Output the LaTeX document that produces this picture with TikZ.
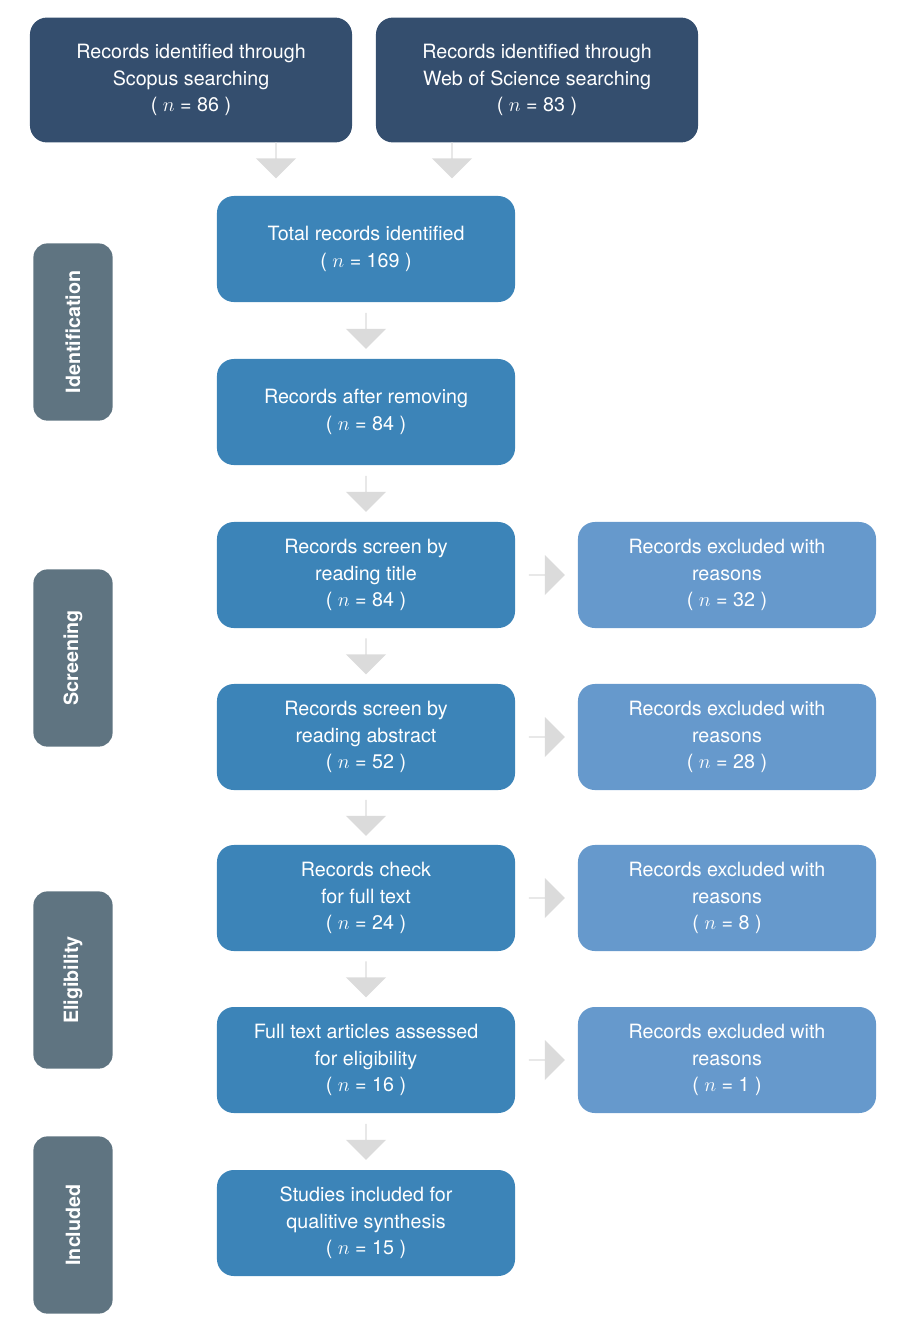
\documentclass[tikz,border=0pt]{standalone}
\usepackage{fontspec}
\setmainfont{TeX Gyre Heros}
\usetikzlibrary{shapes.arrows,positioning,calc}
\definecolor{navy}{HTML}{344E6E}
\definecolor{mid}{HTML}{3C84B8}
\definecolor{light}{HTML}{6699CC}
\definecolor{side}{HTML}{5F7481}

\begin{document}
\begin{tikzpicture}[x=0.025cm,y=-0.025cm]
\tikzstyle{box}=[rounded corners=12pt,text=white,align=center,inner sep=0pt,
  font=\fontsize{14}{19}\selectfont,minimum height=2.65cm]
\tikzstyle{source}=[box,fill=navy,minimum width=8.05cm,minimum height=3.12cm]
\tikzstyle{stage}=[box,fill=mid,minimum width=7.45cm]
\tikzstyle{excl}=[box,fill=light,minimum width=7.45cm]
\tikzstyle{phase}=[rounded corners=10pt,fill=side,text=white,rotate=90,inner sep=0pt,
  minimum width=4.43cm,minimum height=1.98cm,font=\fontsize{14}{17}\selectfont\bfseries]
\tikzstyle{downarrow}=[single arrow,shape border rotate=270,fill=black!14,draw=none,inner sep=0pt,
  minimum width=1cm,minimum height=0.9cm,single arrow head extend=0.2cm]
\tikzstyle{sidearrow}=[downarrow,shape border rotate=0]
\useasboundingbox (0,0) rectangle (905,1336);
% top sources
\node[source] (scopus) at (191,80) {Records identified through\\Scopus searching\\( $n$ = 86 )};
\node[source] (wos) at (537,80) {Records identified through\\Web of Science searching\\( $n$ = 83 )};
% main flow
\foreach \name/\y/\txt in {
	total/249/{Total records identified\\( $n$ = 169 )},
	removed/412/{Records after removing\\( $n$ = 84 )},
	title/575/{Records screen by\\reading title\\( $n$ = 84 )},
	abstract/737/{Records screen by\\reading abstract\\( $n$ = 52 )},
	full/898/{Records check\\for full text\\( $n$ = 24 )},
	elig/1060/{Full text articles assessed\\for eligibility\\( $n$ = 16 )},
	incl/1223/{Studies included for\\qualitive synthesis\\( $n$ = 15 )}}
	\node[stage] (\name) at (366,\y) {\txt};
% exclusions
\foreach \name/\src/\n in {ex1/title/32,ex2/abstract/28,ex3/full/8,ex4/elig/1}
	\node[excl] (\name) at (727,0 |- \src) {Records excluded with\\reasons\\( $n$ = \n\ )};
% phases
\foreach \name/\y/\txt in {pid/332/Identification,psc/658/Screening,pel/980/Eligibility,pin/1225/Included}
	\node[phase] (\name) at (73,\y) {\txt};
% arrows
\node[downarrow] (a1) at (276,160) {};
\node[downarrow] (a2) at (452,160) {};
\foreach \a/\b in {total/removed,removed/title,title/abstract,abstract/full,full/elig,elig/incl}
	\node[downarrow] at ($(\a.south)!0.5!(\b.north)$) {};
\foreach \a/\b in {title/ex1,abstract/ex2,full/ex3,elig/ex4}
	\node[sidearrow] at ($(\a.east)!0.5!(\b.west)$) {};
\end{tikzpicture}
\end{document}
